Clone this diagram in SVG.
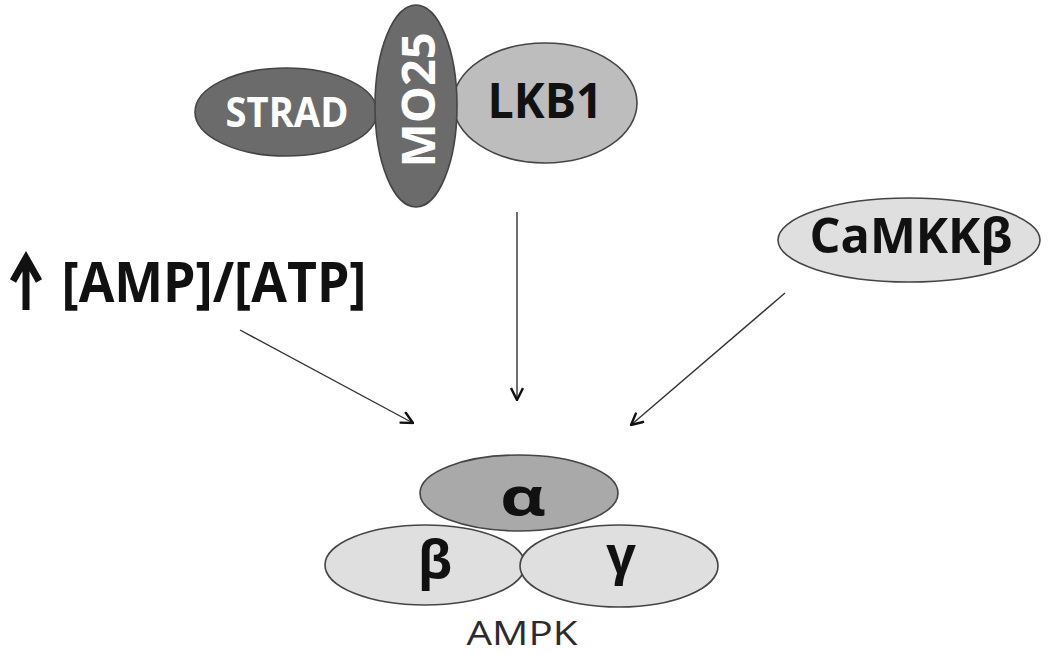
<svg xmlns="http://www.w3.org/2000/svg" width="1050" height="654" viewBox="0 0 1050 654">
<defs>
<style>
.node{stroke:#454545;stroke-width:1.6}
.dark{fill:#6b6b6b}
.mid{fill:#bdbdbd}
.alpha{fill:#a9a9a9}
.light{fill:#dfdfdf}
.lbl{font-family:"Open Sans","Liberation Sans",sans-serif;font-weight:bold;text-anchor:middle}
.w{fill:#ffffff}
.b{fill:#111111}
.conn{stroke:#333333;stroke-width:1.4;fill:none}
</style>
<marker id="arr" viewBox="0 0 14 14" refX="13" refY="7" markerWidth="14" markerHeight="14" markerUnits="userSpaceOnUse" orient="auto">
<path d="M1,1 L13,7 L1,13" fill="none" stroke="#111" stroke-width="2.4"/>
</marker>
</defs>
<rect width="1050" height="654" fill="#ffffff"/>
<g id="STRAD">
<ellipse class="node dark" cx="286" cy="112" rx="91" ry="44"/>
<text class="lbl w" x="287" y="127" font-size="42" textLength="123" lengthAdjust="spacingAndGlyphs">STRAD</text>
</g>
<g id="LKB1">
<ellipse class="node mid" cx="545" cy="103" rx="92" ry="60"/>
<text class="lbl b" x="545" y="118" font-size="49" textLength="115" lengthAdjust="spacingAndGlyphs">LKB1</text>
</g>
<g id="MO25">
<ellipse class="node dark" cx="416" cy="106" rx="41" ry="101"/>
<text class="lbl w" transform="translate(435,100) rotate(-90)" x="0" y="0" font-size="46" textLength="135" lengthAdjust="spacingAndGlyphs">MO25</text>
</g>
<g id="AMPATP">
<path d="M26,310 V258 M13,281 L26,258 L39,281" fill="none" stroke="#111" stroke-width="7"/>
<text class="lbl b" x="214" y="302" font-size="56" textLength="305" lengthAdjust="spacingAndGlyphs">[AMP]/[ATP]</text>
</g>
<g id="CaMKKb">
<ellipse class="node light" cx="909" cy="240" rx="131" ry="42"/>
<text class="lbl b" x="911" y="253" font-size="49" textLength="203" lengthAdjust="spacingAndGlyphs">CaMKKβ</text>
</g>
<g id="AMPK">
<ellipse id="beta" class="node light" cx="425" cy="565" rx="100" ry="40"/>
<ellipse id="gamma" class="node light" cx="619" cy="566" rx="99" ry="41"/>
<ellipse id="alpha" class="node alpha" cx="519" cy="493" rx="99" ry="38"/>
<text class="lbl b" x="523" y="515" font-size="52" textLength="46" lengthAdjust="spacingAndGlyphs">α</text>
<text class="lbl b" x="435" y="578" font-size="52">β</text>
<text class="lbl b" x="621" y="573" font-size="52">γ</text>
<text x="522" y="645" font-family="'Open Sans','Liberation Sans',sans-serif" font-size="33" fill="#2b2b2b" text-anchor="middle" textLength="111" lengthAdjust="spacingAndGlyphs">AMPK</text>
</g>
<g id="connectors">
<line class="conn" x1="517" y1="212" x2="517" y2="400" marker-end="url(#arr)"/>
<line class="conn" x1="240" y1="330" x2="413" y2="423" marker-end="url(#arr)"/>
<line class="conn" x1="785" y1="293" x2="631" y2="425" marker-end="url(#arr)"/>
</g>
</svg>
